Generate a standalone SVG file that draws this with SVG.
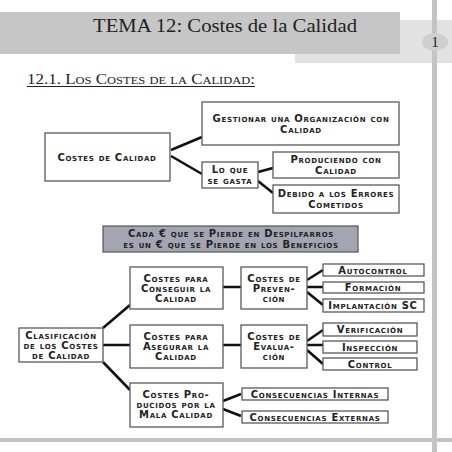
<svg xmlns="http://www.w3.org/2000/svg" width="452" height="452" viewBox="0 0 452 452">
<style>
.box{fill:#fff;stroke:#5a5a5a;stroke-width:1.3}
.t{font-family:"DejaVu Sans","Liberation Sans",sans-serif;font-weight:bold;font-size:10px;font-variant:small-caps;fill:#222;text-anchor:middle;letter-spacing:0.7px}
.c{stroke:#111;stroke-width:2.6;fill:none}
</style>
<rect width="452" height="452" fill="#fff"/>
<rect x="295" y="20" width="157" height="43" fill="#e2e2e2"/>
<rect x="0" y="12" width="400" height="42" fill="#c6c6c6"/>
<rect x="432" y="0" width="5" height="452" fill="#c4c4c4"/>
<rect x="0" y="438" width="452" height="4" fill="#c4c4c4"/>
<ellipse cx="435" cy="42" rx="13" ry="9" fill="#cfcfcf"/>
<text x="435" y="47" font-family="Liberation Serif,serif" font-size="15" text-anchor="middle" fill="#222">1</text>
<text x="225" y="32" font-family="Liberation Serif,serif" font-size="19" text-anchor="middle" fill="#222" textLength="264" lengthAdjust="spacingAndGlyphs">TEMA 12:  Costes de la Calidad</text>
<text x="27" y="84" font-family="Liberation Serif,serif" font-size="15" font-variant="small-caps" fill="#222" textLength="228" lengthAdjust="spacingAndGlyphs">12.1. Los Costes de la Calidad:</text>
<line x1="27" y1="86.5" x2="255" y2="86.5" stroke="#222" stroke-width="1"/>

<g id="connectors">
<path class="c" d="M171 150L202 137M171 156L202 174M258 172L273 168M258 181L273 193"/>
<path class="c" d="M103 328L130 305M103 345H130M103 362L130 390M223 287H241M223 345H241M223 401L241 394M223 409L241 416"/>
<path class="c" d="M307 280L323 270M307 287H323M307 292L323 305M307 341L323 330M307 345H323M307 350L323 364"/>
</g>

<g id="n-costes"><rect class="box" x="45" y="133" width="125" height="48"/><text class="t" x="107" y="160.5">Costes de Calidad</text></g>
<g id="n-gestionar"><rect class="box" x="202" y="102" width="197" height="43"/><text class="t" x="301" y="122">Gestionar una Organización con</text><text class="t" x="301" y="133">Calidad</text></g>
<g id="n-loque"><rect class="box" x="202" y="162" width="56" height="26"/><text class="t" x="230" y="173">Lo que</text><text class="t" x="230" y="184">se gasta</text></g>
<g id="n-produciendo"><rect class="box" x="273" y="152" width="126" height="26"/><text class="t" x="336" y="163">Produciendo con</text><text class="t" x="336" y="174">Calidad</text></g>
<g id="n-debido"><rect class="box" x="273" y="185" width="126" height="28"/><text class="t" x="336" y="197">Debido a los Errores</text><text class="t" x="336" y="208">Cometidos</text></g>

<g id="n-banner"><rect x="103" y="226" width="255" height="26" fill="#a3a6b2" stroke="#555" stroke-width="1.2"/><text class="t" x="231" y="237">Cada € que se Pierde en Despilfarros</text><text class="t" x="231" y="248">es un € que se Pierde en los Beneficios</text></g>

<g id="n-clasif"><rect class="box" x="19" y="328" width="84" height="34"/><text class="t" x="61" y="338.5">Clasificación</text><text class="t" x="61" y="348.5">de los Costes</text><text class="t" x="61" y="358.5">de Calidad</text></g>
<g id="n-conseguir"><rect class="box" x="130" y="267" width="93" height="42"/><text class="t" x="176" y="282">Costes para</text><text class="t" x="176" y="292">Conseguir la</text><text class="t" x="176" y="302">Calidad</text></g>
<g id="n-asegurar"><rect class="box" x="130" y="325" width="93" height="43"/><text class="t" x="176" y="340">Costes para</text><text class="t" x="176" y="350">Asegurar la</text><text class="t" x="176" y="360">Calidad</text></g>
<g id="n-mala"><rect class="box" x="130" y="383" width="93" height="44"/><text class="t" x="176" y="398">Costes Pro-</text><text class="t" x="176" y="408">ducidos por la</text><text class="t" x="176" y="418">Mala Calidad</text></g>
<g id="n-prevencion"><rect class="box" x="241" y="267" width="66" height="42"/><text class="t" x="274" y="282">Costes de</text><text class="t" x="274" y="292">Preven-</text><text class="t" x="274" y="302">ción</text></g>
<g id="n-evaluacion"><rect class="box" x="241" y="325" width="66" height="43"/><text class="t" x="274" y="340">Costes de</text><text class="t" x="274" y="350">Evalua-</text><text class="t" x="274" y="360">ción</text></g>
<g id="n-autocontrol"><rect class="box" x="323" y="264" width="101" height="12"/><text class="t" x="373" y="273.5">Autocontrol</text></g>
<g id="n-formacion"><rect class="box" x="323" y="282" width="101" height="11"/><text class="t" x="373" y="291">Formación</text></g>
<g id="n-implantacion"><rect class="box" x="323" y="299" width="101" height="13"/><text class="t" x="373" y="309">Implantación SC</text></g>
<g id="n-verificacion"><rect class="box" x="323" y="323" width="94" height="13"/><text class="t" x="370" y="333">Verificación</text></g>
<g id="n-inspeccion"><rect class="box" x="323" y="341" width="94" height="12"/><text class="t" x="370" y="350.5">Inspección</text></g>
<g id="n-control"><rect class="box" x="323" y="358" width="94" height="12"/><text class="t" x="370" y="367.5">Control</text></g>
<g id="n-internas"><rect class="box" x="242" y="388" width="146" height="12"/><text class="t" x="315" y="397.5">Consecuencias Internas</text></g>
<g id="n-externas"><rect class="box" x="242" y="411" width="146" height="12"/><text class="t" x="315" y="420.5">Consecuencias Externas</text></g>
</svg>
